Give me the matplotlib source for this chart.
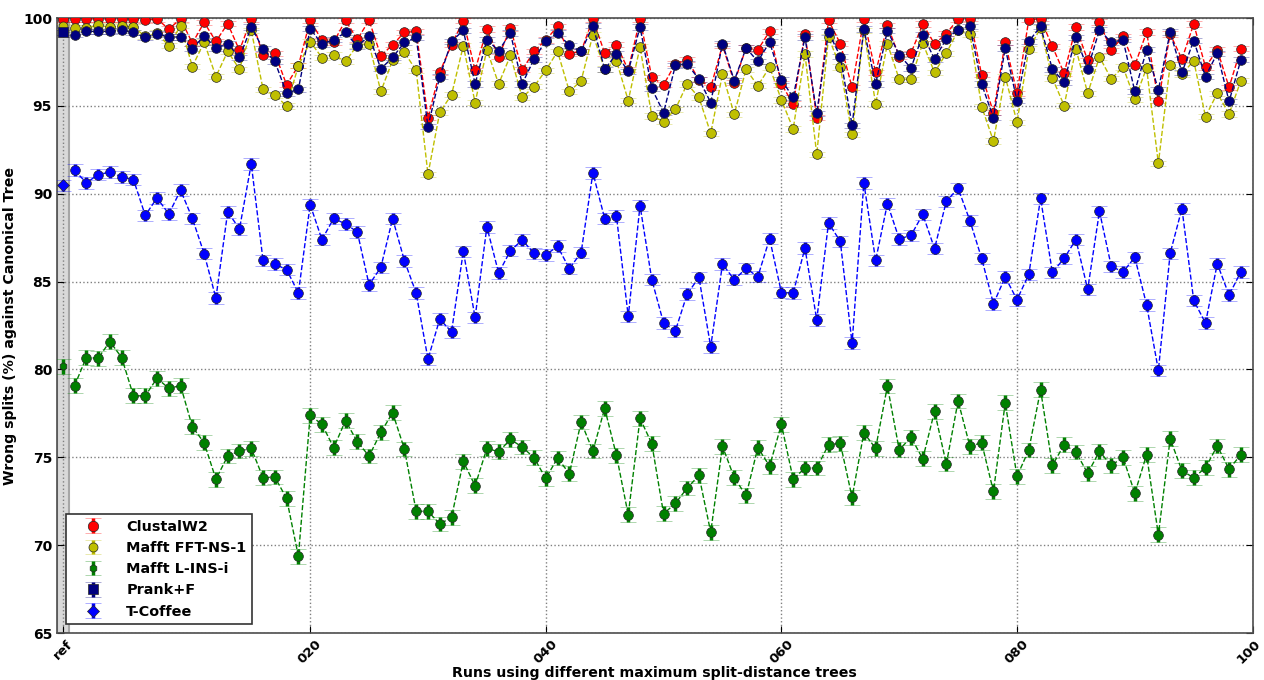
import matplotlib
matplotlib.use("Agg")
import matplotlib.pyplot as plt
import matplotlib.transforms as mtransforms
import numpy as np

# x positions: ref at -1, runs 0..99
run_index = list(range(0, 100))
ref_position = -1
xtick_positions = [-1, 20, 40, 60, 80, 100]
xtick_labels = ["ref", "020", "040", "060", "080", "100"]

series_names = ["ClustalW2", "Mafft FFT-NS-1", "Mafft L-INS-i", "Prank+F", "T-Coffee"]

clustal_ref = 99.95
clustal = [99.95, 99.95, 99.95, 99.95, 99.95, 99.95, 99.87, 99.95, 99.37, 99.95,
           98.57, 99.75, 98.67, 99.68, 98.16, 99.95, 97.91, 98.0, 96.2, 97.28,
           99.87, 98.73, 98.63, 99.87, 98.78, 99.87, 97.85, 98.48, 99.18, 99.24,
           94.33, 96.92, 98.48, 99.85, 97.02, 99.37, 97.81, 99.43, 97.05, 98.10,
           98.75, 99.52, 97.97, 98.10, 99.95, 98.0, 98.48, 97.05, 99.94, 96.63,
           96.20, 97.40, 97.62, 96.50, 96.05, 98.45, 96.33, 98.29, 98.19, 99.24,
           96.25, 95.10, 99.11, 94.33, 99.87, 98.54, 96.06, 99.94, 96.90, 99.58,
           97.81, 98.0, 99.66, 98.52, 99.11, 99.94, 99.97, 96.77, 94.62, 98.61,
           95.72, 99.9, 99.96, 98.38, 96.86, 99.49, 97.59, 99.77, 98.16, 98.95,
           97.30, 99.20, 95.29, 99.09, 97.66, 99.66, 97.21, 98.19, 96.06, 98.25]

fft_ref = 99.52
fft = [99.43, 99.43, 99.58, 99.49, 99.56, 99.49, 98.95, 99.14, 98.42, 99.56,
       97.24, 98.63, 96.67, 98.10, 97.09, 99.30, 95.95, 95.61, 95.0, 97.28,
       98.65, 97.75, 97.90, 97.53, 98.45, 98.52, 95.82, 97.60, 98.04, 97.02,
       91.10, 94.64, 95.63, 98.42, 95.19, 98.19, 96.25, 97.87, 95.48, 96.10,
       97.02, 98.10, 95.82, 96.43, 99.05, 97.10, 97.57, 95.30, 98.35, 94.43,
       94.11, 94.81, 96.25, 95.48, 93.44, 96.81, 94.52, 97.09, 96.14, 97.21,
       95.34, 93.69, 97.95, 92.24, 98.92, 97.21, 93.38, 99.30, 95.11, 98.54,
       96.52, 96.52, 98.57, 96.90, 98.0, 99.30, 99.09, 94.96, 93.0, 96.67,
       94.07, 98.23, 99.43, 96.58, 95.02, 98.25, 95.72, 97.78, 96.54, 97.21,
       95.38, 97.15, 91.73, 97.34, 96.81, 97.57, 94.39, 95.72, 94.54, 96.43]

linsi_ref = 80.17
linsi = [79.08, 80.68, 80.64, 81.59, 80.68, 78.50, 78.50, 79.50, 78.93, 79.08,
         76.74, 75.83, 73.76, 75.07, 75.36, 75.51, 73.84, 73.88, 72.66, 69.37,
         77.39, 76.88, 75.55, 77.09, 75.89, 75.07, 76.42, 77.54, 75.47, 71.93,
         71.93, 71.21, 71.58, 74.77, 73.38, 75.51, 75.32, 76.02, 75.59, 74.98,
         73.80, 74.96, 74.07, 77.01, 75.36, 77.79, 75.11, 71.73, 77.22, 75.78,
         71.79, 72.38, 73.25, 73.97, 70.74, 75.63, 73.84, 72.83, 75.55, 74.50,
         76.88, 73.76, 74.39, 74.39, 75.72, 75.80, 72.72, 76.40, 75.51, 79.06,
         75.43, 76.14, 74.92, 77.62, 74.62, 78.21, 75.63, 75.83, 73.06, 78.10,
         73.92, 75.42, 78.84, 74.54, 75.72, 75.30, 74.09, 75.34, 74.54, 75.0,
         72.95, 75.15, 70.59, 76.06, 74.24, 73.84, 74.41, 75.65, 74.33, 75.15]

prank_ref = 99.18
prank = [99.05, 99.24, 99.24, 99.24, 99.30, 99.18, 98.90, 99.09, 98.92, 98.92,
         98.25, 98.99, 98.29, 98.54, 97.76, 99.49, 98.25, 97.53, 95.72, 95.95,
         99.39, 98.52, 98.76, 99.18, 98.38, 98.99, 97.11, 97.76, 98.61, 98.90,
         93.82, 96.67, 98.67, 99.30, 96.25, 98.76, 98.14, 99.14, 96.25, 97.66,
         98.70, 99.14, 98.44, 98.10, 99.56, 97.09, 97.95, 96.96, 99.49, 95.99,
         94.62, 97.30, 97.38, 96.52, 95.19, 98.54, 96.44, 98.29, 97.53, 98.63,
         96.48, 95.48, 98.92, 94.58, 99.20, 97.81, 93.90, 99.37, 96.25, 99.28,
         97.91, 97.15, 99.05, 97.66, 98.82, 99.33, 99.52, 96.24, 94.33, 98.29,
         95.30, 98.67, 99.52, 97.09, 96.35, 98.90, 97.11, 99.33, 98.61, 98.76,
         95.82, 98.19, 95.91, 99.20, 96.90, 98.71, 96.67, 98.0, 95.25, 97.62]

tcoffee_ref = 90.48
tcoffee = [91.34, 90.62, 91.09, 91.23, 90.96, 90.81, 88.77, 89.76, 88.85, 90.20,
           88.60, 86.59, 84.06, 88.97, 88.0, 91.70, 86.21, 86.0, 85.68, 84.35,
           89.38, 87.39, 88.60, 88.28, 87.83, 84.82, 85.81, 88.59, 86.19, 84.35,
           80.59, 82.87, 82.14, 86.72, 82.96, 88.11, 85.49, 86.76, 87.37, 86.61,
           86.52, 87.01, 85.74, 86.65, 91.19, 88.59, 88.72, 83.02, 89.33, 85.11,
           82.64, 82.20, 84.29, 85.24, 81.29, 86.0, 85.11, 85.75, 85.28, 87.45,
           84.38, 84.35, 86.91, 82.83, 88.34, 87.29, 81.49, 90.62, 86.21, 89.44,
           87.43, 87.63, 88.83, 86.88, 89.57, 90.31, 88.47, 86.32, 83.74, 85.26,
           83.97, 85.41, 89.74, 85.53, 86.32, 87.39, 84.56, 89.0, 85.87, 85.55,
           86.38, 83.68, 79.95, 86.61, 89.16, 83.93, 82.64, 86.02, 84.23, 85.56]

# error estimates (half-width) per series
errors = [0.15, 0.15, 0.42, 0.15, 0.33]

series_ref = [clustal_ref, fft_ref, linsi_ref, prank_ref, tcoffee_ref]
series_runs = [clustal, fft, linsi, prank, tcoffee]
colors = ["#ff0000", "#bfbf00", "#008000", "#000080", "#0000ff"]
ref_markers = ["o", "o", "h", "s", "D"]
ref_msizes = [7.5, 6.5, 5.5, 6.5, 6.5]

plt.rcParams["font.family"] = ["DejaVu Sans"]
plt.rcParams["font.weight"] = "bold"

fig = plt.figure(figsize=(12.64, 6.8), dpi=100)
ax = fig.add_axes([0.045, 0.069, 0.946, 0.9045])

ax.axvspan(-1.5, -0.5, facecolor="0.85", edgecolor="0.65", linewidth=1.5, zorder=0)

handles = []
for name, ref, runs, err, col, mk, ms in zip(series_names, series_ref, series_runs,
                                             errors, colors, ref_markers, ref_msizes):
    c = ax.errorbar(run_index, runs, yerr=err, fmt="o", color=col, ecolor=col,
                    linestyle="--", linewidth=1, markersize=7, markeredgecolor="0.15",
                    markeredgewidth=0.5, elinewidth=2.5, capsize=6, capthick=1.5, zorder=3)
    for cap in c[1]:
        cap.set_alpha(0.45)
    h = ax.errorbar([ref_position], [ref], yerr=err, fmt=mk, color=col, ecolor=col,
                    markersize=ms, markeredgecolor="0.15", markeredgewidth=0.5,
                    elinewidth=2.5, capsize=6, capthick=1.5, zorder=3, label=name)
    for cap in h[1]:
        cap.set_alpha(0.45)
    handles.append(h)

ax.set_xlim(-1.5, 100)
ax.set_ylim(65, 100)
ax.set_xticks(xtick_positions)
ax.set_xticklabels(xtick_labels, rotation=45, fontsize=9.5, fontweight="bold")
ax.set_yticks([65, 70, 75, 80, 85, 90, 95, 100])
ax.set_yticklabels(["65", "70", "75", "80", "85", "90", "95", "100"], fontsize=10,
                   fontweight="bold")
ax.tick_params(direction="in", length=5, right=True, top=True)
ax.tick_params(axis="x", pad=3)
ax.grid(True, linestyle=":", color="0.5", linewidth=1)
ax.set_axisbelow(True)
for s in ax.spines.values():
    s.set_color("0.3")
    s.set_linewidth(1.2)

# nudge the last tick label slightly left so it stays inside the figure
last_label = ax.get_xticklabels()[-1]
last_label.set_transform(last_label.get_transform() +
                         mtransforms.ScaledTranslation(-4 / 100, 0, fig.dpi_scale_trans))

ax.set_xlabel("Runs using different maximum split-distance trees", fontsize=10.2,
              fontweight="bold", labelpad=0)
ax.set_ylabel("Wrong splits (%) against Canonical Tree", fontsize=10.2,
              fontweight="bold", labelpad=4)

leg = ax.legend(handles=handles, loc="lower left", numpoints=1, fancybox=False,
                prop={"weight": "bold", "size": 10.4}, borderaxespad=0.6,
                handlelength=3, framealpha=1, edgecolor="0.2", labelspacing=0.5)
leg.get_frame().set_linewidth(1.2)

fig.savefig("out.png", dpi=100)
